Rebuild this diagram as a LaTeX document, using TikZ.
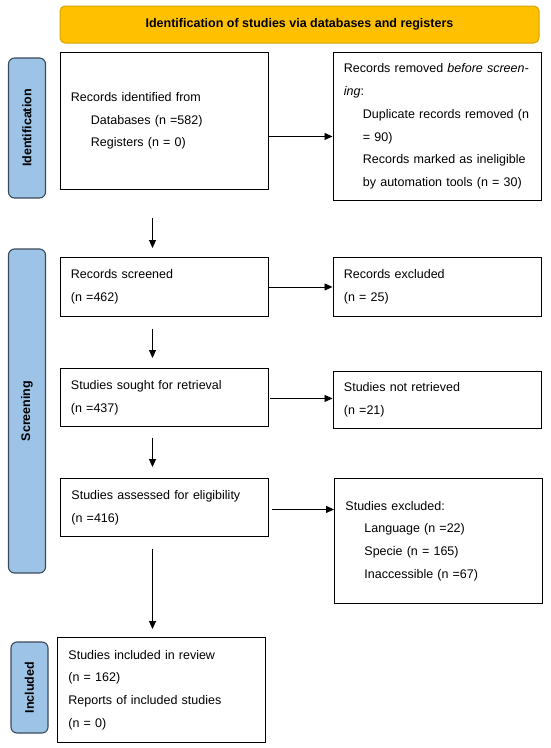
\documentclass[tikz,border=0pt]{standalone}
\usepackage{fontspec}
\setmainfont{Liberation Sans}
\usetikzlibrary{arrows.meta}
\definecolor{bannerfill}{HTML}{FFC000}
\definecolor{bannerline}{HTML}{D9A300}
\definecolor{sidefill}{HTML}{9DC3E6}
\definecolor{sideline}{HTML}{3A4A5C}
\begin{document}
\begin{tikzpicture}[x=1pt,y=-1pt,
  box/.style={draw=black, line width=0.9pt, anchor=north west, align=left,
    inner xsep=11pt, inner ysep=0pt, minimum width=208pt, text width=186pt,
    font=\fontsize{12.5}{22.7}\selectfont},
  side/.style={draw=sideline, fill=sidefill, line width=1.1pt, rounded corners=6pt,
    rotate=90, minimum height=37pt, inner sep=0pt,
    font=\fontsize{12.5}{15}\selectfont\bfseries},
  arr/.style={-{Triangle[length=8pt,width=7pt]}, line width=0.9pt},
]
\useasboundingbox (0,0) rectangle (550,748);

% banner
\node[draw=bannerline, fill=bannerfill, line width=1pt, rounded corners=5pt,
  minimum width=479pt, minimum height=37pt, inner sep=0pt,
  font=\fontsize{12.5}{15}\selectfont\bfseries] (T) at (299.5,24.5)
  {Identification of studies via databases and registers};

% side labels
\node[side, minimum width=140pt] (S1) at (27,128) {Identification};
\node[side, minimum width=324pt] (S2) at (27,411) {Screening};
\node[side, minimum width=91pt] (S3) at (29.5,687.5) {Included};

% boxes
\node[box, minimum height=137pt] (A) at (59.5,52)
  {Records identified from\\
   \hspace*{20pt}Databases (n =582)\\
   \hspace*{20pt}Registers (n = 0)};
\node[box, minimum height=148pt] (B) at (332.5,52)
  {Records removed \textit{before screen-}\\
   \textit{ing}:\\
   \hspace*{19pt}Duplicate records removed (n\\
   \hspace*{19pt}= 90)\\
   \hspace*{19pt}Records marked as ineligible\\
   \hspace*{19pt}by automation tools (n = 30)};
\node[box, minimum height=59pt] (C) at (59.5,257)
  {Records screened\\(n =462)};
\node[box, minimum height=59pt] (D) at (332.5,257)
  {Records excluded\\(n = 25)};
\node[box, minimum height=58pt] (E) at (59.5,368)
  {Studies sought for retrieval\\(n =437)};
\node[box, minimum height=57pt] (F) at (332.5,371)
  {Studies not retrieved\\(n =21)};
\node[box, minimum height=58pt] (G) at (60,478)
  {Studies assessed for eligibility\\(n =416)};
\node[box, minimum height=125pt] (H) at (334,478)
  {Studies excluded:\\
   \hspace*{19pt}Language (n =22)\\
   \hspace*{19pt}Specie (n = 165)\\
   \hspace*{19pt}Inaccessible (n =67)};
\node[box, minimum height=105pt] (I) at (57,637)
  {Studies included in review\\(n = 162)\\Reports of included studies\\(n = 0)};

% vertical connectors
\coordinate (ax) at (152.5,0);
\draw[arr, shorten <=28pt, shorten >=9pt] (ax |- A.south) -- (ax |- C.north);
\draw[arr, shorten <=12pt, shorten >=10pt] (ax |- C.south) -- (ax |- E.north);
\draw[arr, shorten <=11pt, shorten >=11pt] (ax |- E.south) -- (ax |- G.north);
\draw[arr, shorten <=12pt, shorten >=8pt] (ax |- G.south) -- (ax |- I.north);

% horizontal connectors
\draw[arr] ([yshift=-15.5pt]A.east) -- ([yshift=-15.5pt]A.east -| B.west);
\draw[arr] (C.east) -- (C.east -| D.west);
\draw[arr, shorten <=2pt] ([yshift=-1pt]E.east) -- ([yshift=-1pt]E.east -| F.west);
\draw[arr, shorten <=3.5pt] ([yshift=-2pt]G.east) -- ([yshift=-2pt]G.east -| H.west);
\end{tikzpicture}
\end{document}
